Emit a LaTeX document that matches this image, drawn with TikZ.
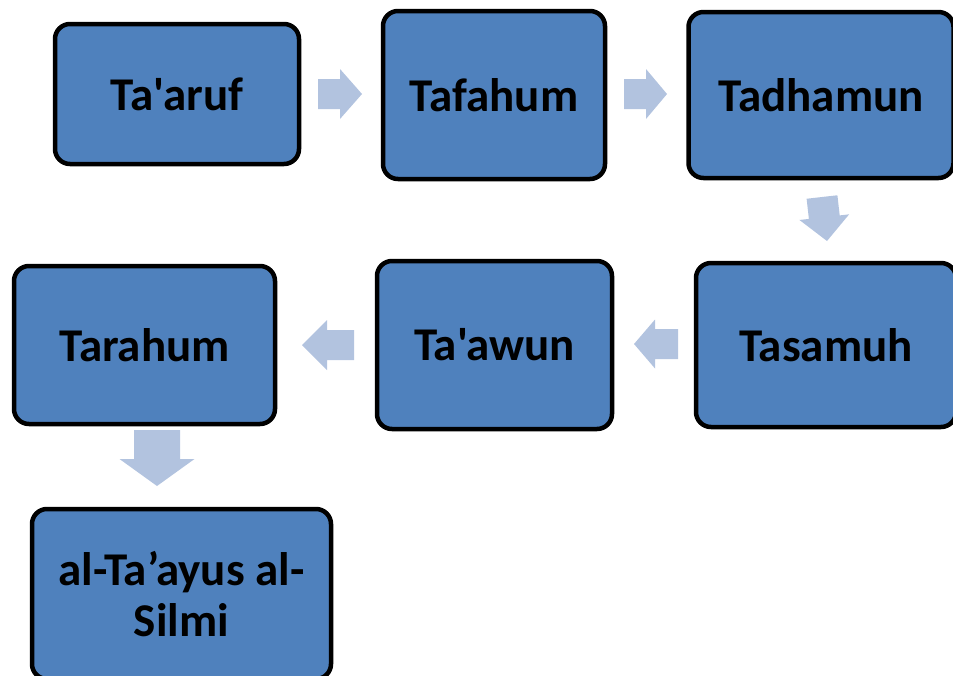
\documentclass[tikz,border=0pt]{standalone}
\usepackage{fontspec}
\newfontfamily\boxfont{Carlito}
\usetikzlibrary{calc}
\definecolor{boxblue}{RGB}{79,129,189}
\definecolor{arrowblue}{RGB}{178,195,223}

% tail, tip, half shaft width, half head width, head length
\newcommand{\blockarrow}[5]{%
  \coordinate (neck) at ($(#2)!#5!(#1)$);
  \fill[arrowblue] ($(#1)!#3!90:(#2)$) -- ($(neck)!#3!90:(#2)$) -- ($(neck)!#4!90:(#2)$)
    -- (#2) -- ($(neck)!#4!-90:(#2)$) -- ($(neck)!#3!-90:(#2)$) -- ($(#1)!#3!-90:(#2)$) -- cycle;
}

\begin{document}
\begin{tikzpicture}
[x=1pt,y=1pt,%
  box/.style={draw,line width=4.5pt,fill=boxblue,rounded corners=15pt,inner sep=0pt,%
    align=center,font=\boxfont\bfseries\fontsize{47}{51}\selectfont}]
\useasboundingbox (0,0) rectangle (953,-675);
\clip (0,0) rectangle (953,-675);

% first row
\node[box,minimum width=244pt,minimum height=140pt] (taaruf) at (177,-94) {Ta'aruf};
\node[box,minimum width=222pt,minimum height=168pt] (tafahum) at (494,-95) {Tafahum};
\node[box,minimum width=265pt,minimum height=166pt] (tadhamun) at (821,-95) {Tadhamun};
% second row
\node[box,minimum width=260pt,minimum height=164pt] (tasamuh) at (826,-345) {Tasamuh};
\node[box,minimum width=235pt,minimum height=168pt] (taawun) at (494.5,-345) {Ta'awun};
\node[box,minimum width=261pt,minimum height=158pt] (tarahum) at (144.5,-345) {Tarahum};
% last one
\node[box,minimum width=299pt,minimum height=170pt] (silmi) at (181.5,-594) {al-Ta’ayus al-\\Silmi};

% arrows
\coordinate (a1t) at (318,-94);   \coordinate (a1h) at (362,-94);
\coordinate (a2t) at (624,-94);   \coordinate (a2h) at (667,-94);
\coordinate (a3t) at (822,-197);  \coordinate (a3h) at (827,-241);
\coordinate (a4t) at (678,-344);  \coordinate (a4h) at (634,-344);
\coordinate (a5t) at (354,-345);  \coordinate (a5h) at (302,-345);
\coordinate (a6t) at (157,-430);  \coordinate (a6h) at (157,-486);
\blockarrow{a1t}{a1h}{15pt}{25pt}{22pt}
\blockarrow{a2t}{a2h}{15pt}{25pt}{21pt}
\blockarrow{a3t}{a3h}{15.5pt}{25pt}{24pt}
\blockarrow{a4t}{a4h}{15pt}{24.5pt}{21pt}
\blockarrow{a5t}{a5h}{15pt}{25pt}{25pt}
\blockarrow{a6t}{a6h}{23pt}{37.5pt}{27pt}
\end{tikzpicture}
\end{document}
